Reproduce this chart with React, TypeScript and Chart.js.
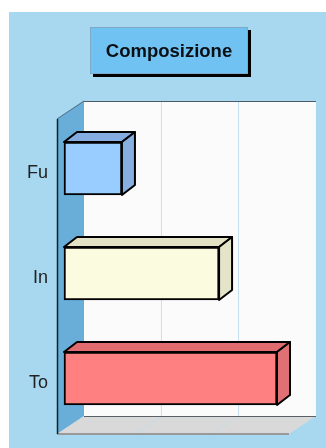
import { useEffect, useRef } from "react";
import { Chart, registerables } from "chart.js";

Chart.register(...registerables);

const categories = ["Fu", "In", "To"];
const values = [27.2, 72.8, 100];
const frontColors = ["#99ccff", "#fbfbdf", "#ff8080"];
const depthColors = ["#87b0e0", "#e4e4c8", "#e07074"];
const topColors = ["#84ace0", "#e4e2c4", "#e06c70"];
const gridValues = [33.3, 69.5];
const axisMin = -3.29;
const axisMax = 123;
const axisEnd = 105.6;
const titleText = "Composizione";

const WALL_DX = 27;
const WALL_DY = -18;
const BAR_DX = 13;
const BAR_DY = -10;
const FONT = "'Liberation Sans', Arial, sans-serif";

function poly(ctx: CanvasRenderingContext2D, pts: number[][], fill?: string, stroke?: string, lw = 1) {
  ctx.beginPath();
  pts.forEach(([x, y], i) => (i ? ctx.lineTo(x, y) : ctx.moveTo(x, y)));
  ctx.closePath();
  if (fill) {
    ctx.fillStyle = fill;
    ctx.fill();
  }
  if (stroke) {
    ctx.strokeStyle = stroke;
    ctx.lineWidth = lw;
    ctx.lineJoin = "round";
    ctx.stroke();
  }
}

function line(ctx: CanvasRenderingContext2D, x1: number, y1: number, x2: number, y2: number, color: string, lw: number) {
  ctx.beginPath();
  ctx.moveTo(x1, y1);
  ctx.lineTo(x2, y2);
  ctx.strokeStyle = color;
  ctx.lineWidth = lw;
  ctx.stroke();
}

const scene3d = {
  id: "scene3d",
  beforeDraw(chart: any) {
    const { ctx, width, height } = chart;
    ctx.save();
    ctx.fillStyle = "#ffffff";
    ctx.fillRect(0, 0, width, height);
    ctx.fillStyle = "#a8d8f0";
    ctx.fillRect(9, 12, width - 9, height - 12);
    // title panel
    ctx.fillStyle = "#000000";
    ctx.fillRect(93, 30, 158, 47);
    ctx.fillStyle = "#70c2f2";
    ctx.fillRect(90, 27, 158, 47);
    ctx.strokeStyle = "#7fa9c4";
    ctx.lineWidth = 1;
    ctx.strokeRect(90.5, 27.5, 157, 46);
    ctx.restore();
  },
  beforeDatasetsDraw(chart: any) {
    const { ctx, chartArea, scales } = chart;
    const x = scales.x;
    const left = chartArea.left;
    const right = x.getPixelForValue(axisEnd);
    const top = chartArea.top + 3;
    const bottom = chartArea.bottom + 3;
    const backTop = top + WALL_DY;
    const backBottom = bottom + WALL_DY;
    ctx.save();
    // back wall
    ctx.fillStyle = "#fbfbfc";
    ctx.fillRect(left + WALL_DX, backTop, right - left, backBottom - backTop);
    // left wall
    poly(ctx, [[left, top], [left + WALL_DX, backTop], [left + WALL_DX, backBottom], [left, bottom]], "#68aed8");
    // floor
    poly(ctx, [[left, bottom], [left + WALL_DX, backBottom], [right + WALL_DX, backBottom], [right, bottom]], "#d9d9d9");
    // grid
    gridValues.forEach((v) => {
      const px = x.getPixelForValue(v);
      line(ctx, px + WALL_DX - 0.5, backTop, px + WALL_DX - 0.5, backBottom, "#c4e0ee", 1);
      line(ctx, px, bottom, px + WALL_DX, backBottom, "#c6dbe6", 1);
    });
    // outlines
    line(ctx, left + WALL_DX, backTop + 0.5, right + WALL_DX, backTop + 0.5, "#4a5a66", 1);
    line(ctx, left + WALL_DX, backBottom + 0.5, right + WALL_DX, backBottom + 0.5, "#5a6066", 1);
    line(ctx, left, top, left + WALL_DX, backTop, "#4a6a80", 1);
    line(ctx, left, bottom, right, bottom, "#999999", 2);
    line(ctx, left + 0.5, top, left + 0.5, bottom, "#10202c", 1.5);
    ctx.restore();
  },
  afterDatasetsDraw(chart: any) {
    const { ctx } = chart;
    ctx.save();
    chart.getDatasetMeta(0).data.forEach((bar: any, i: number) => {
      const x1 = bar.base;
      const x2 = bar.x;
      const y1 = bar.y - bar.height / 2;
      const y2 = bar.y + bar.height / 2;
      poly(ctx, [[x1, y1], [x1 + BAR_DX, y1 + BAR_DY], [x2 + BAR_DX, y1 + BAR_DY], [x2, y1]], topColors[i], "#000000", 2);
      poly(ctx, [[x2, y1], [x2 + BAR_DX, y1 + BAR_DY], [x2 + BAR_DX, y2 + BAR_DY], [x2, y2]], depthColors[i], "#000000", 2);
    });
    ctx.restore();
  },
};

export default function App() {
  const ref = useRef<HTMLCanvasElement>(null);
  useEffect(() => {
    const chart = new Chart(ref.current!, {
      type: "bar",
      data: {
        labels: categories,
        datasets: [
          {
            data: values,
            backgroundColor: frontColors,
            borderColor: "#000000",
            borderWidth: 2,
            borderSkipped: false,
            barThickness: 53,
          } as any,
        ],
      },
      options: {
        indexAxis: "y",
        animation: false,
        responsive: false,
        layout: { padding: { left: 12, right: 0, top: 0, bottom: 17 } },
        plugins: {
          legend: { display: false },
          tooltip: { enabled: false },
          title: {
            display: true,
            text: titleText,
            color: "#0a0f14",
            font: { family: FONT, size: 18.5, weight: "bold", lineHeight: 1.2 },
            padding: { top: 40.9, bottom: 52.9 },
          },
        },
        scales: {
          x: { display: false, min: axisMin, max: axisMax, grid: { display: false } },
          y: {
            afterFit(s: any) {
              s.width = 45;
            },
            grid: { display: false },
            border: { display: false },
            ticks: { color: "#222222", font: { family: FONT, size: 18 }, padding: 1, labelOffset: 4.5 },
          },
        },
      },
      plugins: [scene3d],
    } as any);
    return () => chart.destroy();
  }, []);
  return <canvas ref={ref} width={326} height={448} style={{ position: "absolute", left: 0, top: 0 }} />;
}
